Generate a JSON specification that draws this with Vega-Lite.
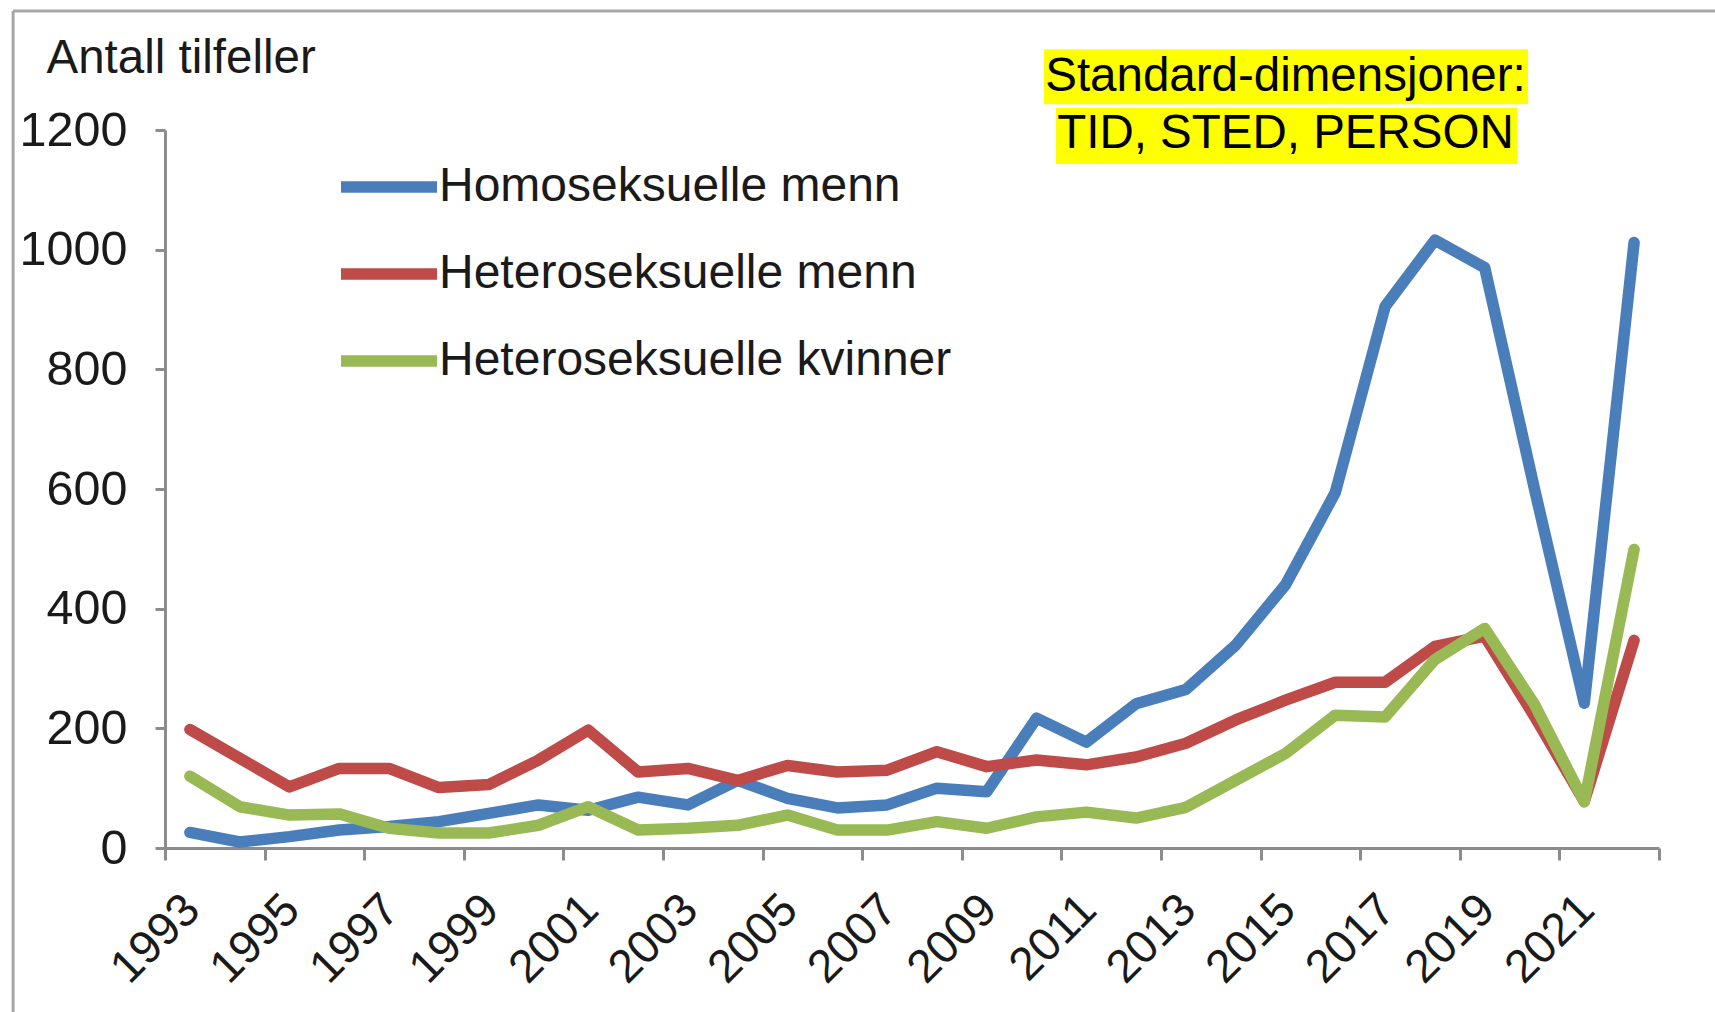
{
  "$schema": "https://vega.github.io/schema/vega-lite/v6.json",
  "width": 1494,
  "height": 718,
  "autosize": {"type": "none"},
  "padding": {"left": 165, "top": 130, "right": 56, "bottom": 164},
  "background": "white",
  "config": {"view": {"stroke": null}, "font": "Liberation Sans"},
  "datasets": {
    "cases": [
      {"Year": 1993, "Gruppe": "Homoseksuelle menn", "Antall": 26},
      {"Year": 1994, "Gruppe": "Homoseksuelle menn", "Antall": 10},
      {"Year": 1995, "Gruppe": "Homoseksuelle menn", "Antall": 19},
      {"Year": 1996, "Gruppe": "Homoseksuelle menn", "Antall": 30},
      {"Year": 1997, "Gruppe": "Homoseksuelle menn", "Antall": 36},
      {"Year": 1998, "Gruppe": "Homoseksuelle menn", "Antall": 44},
      {"Year": 1999, "Gruppe": "Homoseksuelle menn", "Antall": 58},
      {"Year": 2000, "Gruppe": "Homoseksuelle menn", "Antall": 72},
      {"Year": 2001, "Gruppe": "Homoseksuelle menn", "Antall": 63},
      {"Year": 2002, "Gruppe": "Homoseksuelle menn", "Antall": 85},
      {"Year": 2003, "Gruppe": "Homoseksuelle menn", "Antall": 72},
      {"Year": 2004, "Gruppe": "Homoseksuelle menn", "Antall": 113},
      {"Year": 2005, "Gruppe": "Homoseksuelle menn", "Antall": 83},
      {"Year": 2006, "Gruppe": "Homoseksuelle menn", "Antall": 67},
      {"Year": 2007, "Gruppe": "Homoseksuelle menn", "Antall": 72},
      {"Year": 2008, "Gruppe": "Homoseksuelle menn", "Antall": 100},
      {"Year": 2009, "Gruppe": "Homoseksuelle menn", "Antall": 94},
      {"Year": 2010, "Gruppe": "Homoseksuelle menn", "Antall": 217},
      {"Year": 2011, "Gruppe": "Homoseksuelle menn", "Antall": 177},
      {"Year": 2012, "Gruppe": "Homoseksuelle menn", "Antall": 241},
      {"Year": 2013, "Gruppe": "Homoseksuelle menn", "Antall": 265},
      {"Year": 2014, "Gruppe": "Homoseksuelle menn", "Antall": 339},
      {"Year": 2015, "Gruppe": "Homoseksuelle menn", "Antall": 440},
      {"Year": 2016, "Gruppe": "Homoseksuelle menn", "Antall": 594},
      {"Year": 2017, "Gruppe": "Homoseksuelle menn", "Antall": 905},
      {"Year": 2018, "Gruppe": "Homoseksuelle menn", "Antall": 1016},
      {"Year": 2019, "Gruppe": "Homoseksuelle menn", "Antall": 970},
      {"Year": 2020, "Gruppe": "Homoseksuelle menn", "Antall": 600},
      {"Year": 2021, "Gruppe": "Homoseksuelle menn", "Antall": 242},
      {"Year": 2022, "Gruppe": "Homoseksuelle menn", "Antall": 1012},
      {"Year": 1993, "Gruppe": "Heteroseksuelle menn", "Antall": 198},
      {"Year": 1994, "Gruppe": "Heteroseksuelle menn", "Antall": 150},
      {"Year": 1995, "Gruppe": "Heteroseksuelle menn", "Antall": 102},
      {"Year": 1996, "Gruppe": "Heteroseksuelle menn", "Antall": 133},
      {"Year": 1997, "Gruppe": "Heteroseksuelle menn", "Antall": 133},
      {"Year": 1998, "Gruppe": "Heteroseksuelle menn", "Antall": 101},
      {"Year": 1999, "Gruppe": "Heteroseksuelle menn", "Antall": 106},
      {"Year": 2000, "Gruppe": "Heteroseksuelle menn", "Antall": 147},
      {"Year": 2001, "Gruppe": "Heteroseksuelle menn", "Antall": 197},
      {"Year": 2002, "Gruppe": "Heteroseksuelle menn", "Antall": 127},
      {"Year": 2003, "Gruppe": "Heteroseksuelle menn", "Antall": 133},
      {"Year": 2004, "Gruppe": "Heteroseksuelle menn", "Antall": 113},
      {"Year": 2005, "Gruppe": "Heteroseksuelle menn", "Antall": 138},
      {"Year": 2006, "Gruppe": "Heteroseksuelle menn", "Antall": 127},
      {"Year": 2007, "Gruppe": "Heteroseksuelle menn", "Antall": 130},
      {"Year": 2008, "Gruppe": "Heteroseksuelle menn", "Antall": 161},
      {"Year": 2009, "Gruppe": "Heteroseksuelle menn", "Antall": 136},
      {"Year": 2010, "Gruppe": "Heteroseksuelle menn", "Antall": 147},
      {"Year": 2011, "Gruppe": "Heteroseksuelle menn", "Antall": 139},
      {"Year": 2012, "Gruppe": "Heteroseksuelle menn", "Antall": 152},
      {"Year": 2013, "Gruppe": "Heteroseksuelle menn", "Antall": 175},
      {"Year": 2014, "Gruppe": "Heteroseksuelle menn", "Antall": 214},
      {"Year": 2015, "Gruppe": "Heteroseksuelle menn", "Antall": 247},
      {"Year": 2016, "Gruppe": "Heteroseksuelle menn", "Antall": 277},
      {"Year": 2017, "Gruppe": "Heteroseksuelle menn", "Antall": 277},
      {"Year": 2018, "Gruppe": "Heteroseksuelle menn", "Antall": 337},
      {"Year": 2019, "Gruppe": "Heteroseksuelle menn", "Antall": 354},
      {"Year": 2020, "Gruppe": "Heteroseksuelle menn", "Antall": 220},
      {"Year": 2021, "Gruppe": "Heteroseksuelle menn", "Antall": 78},
      {"Year": 2022, "Gruppe": "Heteroseksuelle menn", "Antall": 347},
      {"Year": 1993, "Gruppe": "Heteroseksuelle kvinner", "Antall": 120},
      {"Year": 1994, "Gruppe": "Heteroseksuelle kvinner", "Antall": 69},
      {"Year": 1995, "Gruppe": "Heteroseksuelle kvinner", "Antall": 55},
      {"Year": 1996, "Gruppe": "Heteroseksuelle kvinner", "Antall": 57},
      {"Year": 1997, "Gruppe": "Heteroseksuelle kvinner", "Antall": 33},
      {"Year": 1998, "Gruppe": "Heteroseksuelle kvinner", "Antall": 25},
      {"Year": 1999, "Gruppe": "Heteroseksuelle kvinner", "Antall": 25},
      {"Year": 2000, "Gruppe": "Heteroseksuelle kvinner", "Antall": 38},
      {"Year": 2001, "Gruppe": "Heteroseksuelle kvinner", "Antall": 69},
      {"Year": 2002, "Gruppe": "Heteroseksuelle kvinner", "Antall": 30},
      {"Year": 2003, "Gruppe": "Heteroseksuelle kvinner", "Antall": 33},
      {"Year": 2004, "Gruppe": "Heteroseksuelle kvinner", "Antall": 38},
      {"Year": 2005, "Gruppe": "Heteroseksuelle kvinner", "Antall": 55},
      {"Year": 2006, "Gruppe": "Heteroseksuelle kvinner", "Antall": 30},
      {"Year": 2007, "Gruppe": "Heteroseksuelle kvinner", "Antall": 30},
      {"Year": 2008, "Gruppe": "Heteroseksuelle kvinner", "Antall": 44},
      {"Year": 2009, "Gruppe": "Heteroseksuelle kvinner", "Antall": 33},
      {"Year": 2010, "Gruppe": "Heteroseksuelle kvinner", "Antall": 52},
      {"Year": 2011, "Gruppe": "Heteroseksuelle kvinner", "Antall": 60},
      {"Year": 2012, "Gruppe": "Heteroseksuelle kvinner", "Antall": 50},
      {"Year": 2013, "Gruppe": "Heteroseksuelle kvinner", "Antall": 68},
      {"Year": 2014, "Gruppe": "Heteroseksuelle kvinner", "Antall": 113},
      {"Year": 2015, "Gruppe": "Heteroseksuelle kvinner", "Antall": 158},
      {"Year": 2016, "Gruppe": "Heteroseksuelle kvinner", "Antall": 222},
      {"Year": 2017, "Gruppe": "Heteroseksuelle kvinner", "Antall": 219},
      {"Year": 2018, "Gruppe": "Heteroseksuelle kvinner", "Antall": 315},
      {"Year": 2019, "Gruppe": "Heteroseksuelle kvinner", "Antall": 367},
      {"Year": 2020, "Gruppe": "Heteroseksuelle kvinner", "Antall": 240},
      {"Year": 2021, "Gruppe": "Heteroseksuelle kvinner", "Antall": 77},
      {"Year": 2022, "Gruppe": "Heteroseksuelle kvinner", "Antall": 499}
    ],
    "note": [
      {"line1": "Standard-dimensjoner:", "line2": "TID, STED, PERSON"}
    ]
  },
  "layer": [
    {
      "data": {"name": "note"},
      "mark": {"type": "rule", "color": "#a6a6a6", "strokeWidth": 3},
      "encoding": {
        "x": {"datum": 1989.45, "type": "quantitative"},
        "x2": {"datum": 2024.2},
        "y": {"datum": 1399, "type": "quantitative"}
      }
    },
    {
      "data": {"name": "note"},
      "mark": {"type": "rule", "color": "#a6a6a6", "strokeWidth": 3},
      "encoding": {
        "x": {"datum": 1989.45, "type": "quantitative"},
        "y": {"datum": 1399, "type": "quantitative"},
        "y2": {"datum": -290}
      }
    },
    {
      "data": {"name": "note"},
      "mark": {"type": "rect", "color": "#ffff00"},
      "encoding": {
        "x": {"datum": 2010.15, "type": "quantitative"},
        "x2": {"datum": 2019.87},
        "y": {"datum": 1335, "type": "quantitative"},
        "y2": {"datum": 1243}
      }
    },
    {
      "data": {"name": "note"},
      "mark": {"type": "rect", "color": "#ffff00"},
      "encoding": {
        "x": {"datum": 2010.39, "type": "quantitative"},
        "x2": {"datum": 2019.65},
        "y": {"datum": 1237, "type": "quantitative"},
        "y2": {"datum": 1143}
      }
    },
    {
      "data": {"name": "note"},
      "mark": {"type": "text", "font": "Liberation Sans", "fontSize": 47.5, "align": "center", "baseline": "middle", "color": "#000000"},
      "encoding": {
        "x": {"datum": 2015.0, "type": "quantitative"},
        "y": {"datum": 1289, "type": "quantitative"},
        "text": {"field": "line1"}
      }
    },
    {
      "data": {"name": "note"},
      "mark": {"type": "text", "font": "Liberation Sans", "fontSize": 47.5, "align": "center", "baseline": "middle", "color": "#000000"},
      "encoding": {
        "x": {"datum": 2015.0, "type": "quantitative"},
        "y": {"datum": 1193, "type": "quantitative"},
        "text": {"field": "line2"}
      }
    },
    {
      "data": {"name": "cases"},
      "mark": {"type": "line", "strokeWidth": 11.5, "strokeJoin": "round", "strokeCap": "round"},
      "encoding": {
        "x": {
          "field": "Year",
          "type": "quantitative",
          "scale": {"domain": [1992.5, 2022.5], "nice": false, "zero": false},
          "axis": {
            "title": null,
            "grid": false,
            "values": [1992.5, 1994.5, 1996.5, 1998.5, 2000.5, 2002.5, 2004.5, 2006.5, 2008.5, 2010.5, 2012.5, 2014.5, 2016.5, 2018.5, 2020.5, 2022.5],
            "labelExpr": "datum.value > 2022 ? '' : format(datum.value + 0.5, 'd')",
            "labelAngle": -45,
            "labelAlign": "right",
            "labelBaseline": "middle",
            "labelOffset": 27,
            "labelPadding": 42,
            "labelFontSize": 46.5,
            "labelFont": "Liberation Sans",
            "labelColor": "#1a1a1a",
            "labelOverlap": false,
            "labelFlush": false,
            "labelBound": false,
            "tickSize": 12,
            "tickWidth": 3,
            "tickColor": "#8c8c8c",
            "domainColor": "#8c8c8c",
            "domainWidth": 3
          }
        },
        "y": {
          "field": "Antall",
          "type": "quantitative",
          "scale": {"domain": [0, 1200], "nice": false, "zero": true},
          "axis": {
            "title": "Antall tilfeller",
            "titleAngle": 0,
            "titleAlign": "left",
            "titleBaseline": "middle",
            "titleX": -119,
            "titleY": -72,
            "titleFontSize": 47.5,
            "titleFontWeight": "normal",
            "titleFont": "Liberation Sans",
            "titleColor": "#1a1a1a",
            "grid": false,
            "format": "d",
            "values": [0, 200, 400, 600, 800, 1000, 1200],
            "labelFontSize": 48.5,
            "labelFont": "Liberation Sans",
            "labelColor": "#1a1a1a",
            "labelPadding": 28,
            "tickSize": 10,
            "tickWidth": 3,
            "tickColor": "#8c8c8c",
            "domainColor": "#8c8c8c",
            "domainWidth": 3
          }
        },
        "color": {
          "field": "Gruppe",
          "type": "nominal",
          "scale": {
            "domain": ["Homoseksuelle menn", "Heteroseksuelle menn", "Heteroseksuelle kvinner"],
            "range": ["#4a7ebb", "#be4b48", "#98b954"]
          },
          "legend": {
            "title": null,
            "orient": "none",
            "legendX": 170,
            "legendY": 3,
            "padding": 0,
            "symbolType": "stroke",
            "symbolSize": 9216,
            "symbolStrokeWidth": 11.5,
            "labelFontSize": 48,
            "labelFont": "Liberation Sans",
            "labelColor": "#1a1a1a",
            "labelOffset": -4,
            "labelLimit": 1000,
            "rowPadding": 9
          }
        }
      }
    }
  ]
}
